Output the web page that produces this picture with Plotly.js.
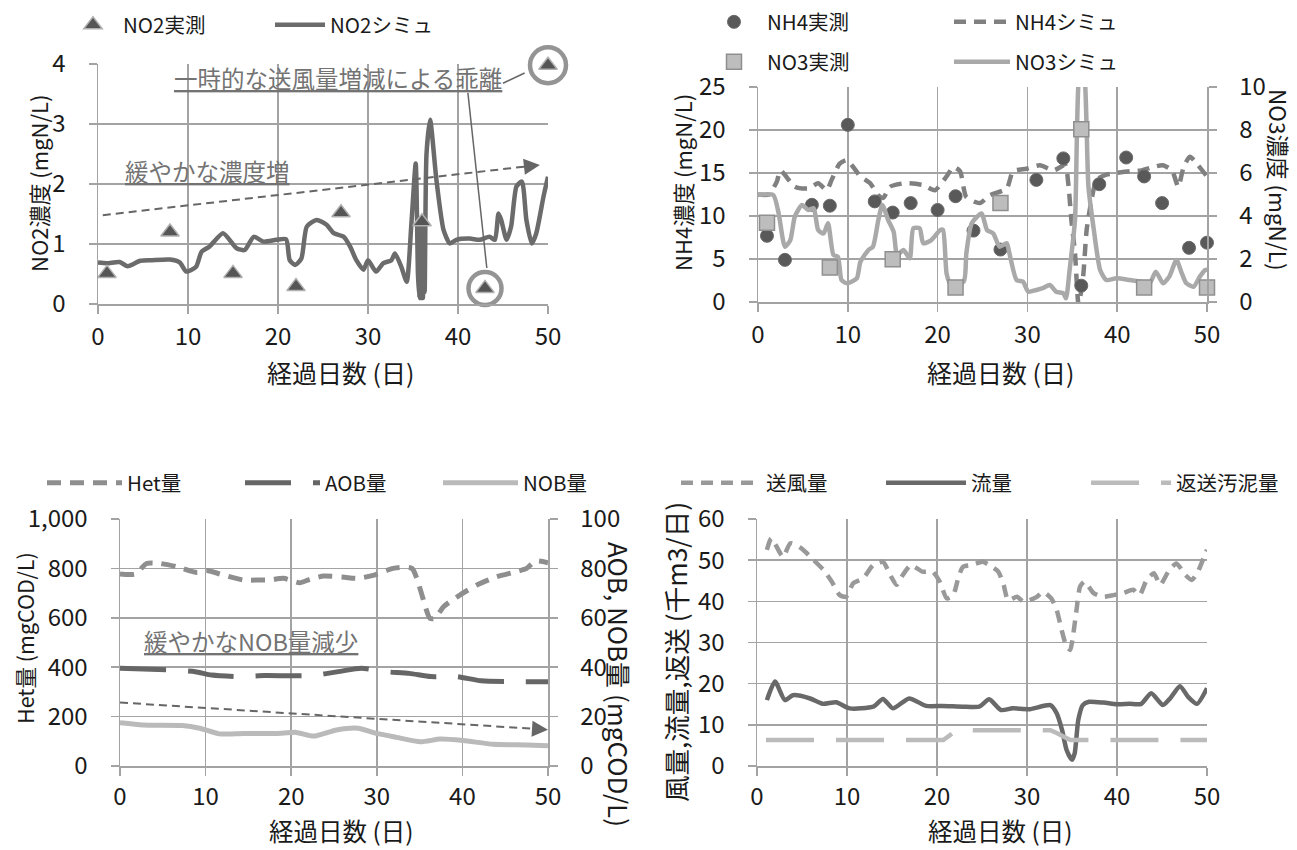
<!DOCTYPE html>
<html><head><meta charset="utf-8">
<script src="https://cdn.plot.ly/plotly-3.0.1.min.js"></script>
<style>html,body{margin:0;padding:0;background:#fff;overflow:hidden;width:1297px;height:850px;}#chart{width:1297px;height:850px;overflow:hidden;}</style>
</head><body><div id="chart"></div>
<script>
// ---------- DATA ----------
// Top-left: NO2
const no2ObsDay = [1, 8, 15, 22, 27, 36, 43, 50];
const no2Obs    = [0.51, 1.2, 0.51, 0.29, 1.52, 1.37, 0.26, 3.98];
const no2SimDay = [0, 1, 2.4, 3.3, 4.7, 6, 8, 9.1, 9.8, 10.9, 11.5, 12.4, 13.9, 15.4, 16.3, 17.3, 18.4, 19.8, 20.9, 21.3, 21.9, 22.6, 23.2, 24.3, 25.4, 26.2, 27.3, 28, 28.7, 29.5, 30, 30.9, 31.7, 32.6, 33, 33.7, 34.3, 34.8, 35.3, 35.55, 35.7, 35.8, 35.9, 36.0, 36.1, 36.2, 36.3, 36.5, 36.9, 37.6, 38.4, 39.1, 39.8, 41.3, 42.4, 43.5, 44.1, 44.5, 44.8, 45.4, 45.9, 46.5, 47.1, 47.6, 48.2, 48.7, 49.5, 50];
const no2Sim    = [0.69, 0.68, 0.70, 0.63, 0.72, 0.73, 0.74, 0.69, 0.54, 0.62, 0.87, 0.96, 1.18, 0.93, 0.90, 1.12, 1.04, 1.07, 1.08, 0.73, 0.65, 0.76, 1.29, 1.40, 1.32, 1.18, 1.12, 0.96, 0.73, 0.57, 0.73, 0.54, 0.68, 0.73, 0.84, 0.62, 0.37, 1.29, 2.34, 0.5, 0.1, 1.4, 0.1, 1.4, 0.1, 1.3, 0.2, 2.5, 3.07, 2.07, 1.23, 1.01, 1.07, 1.09, 1.07, 1.12, 1.07, 1.51, 1.40, 1.07, 1.29, 1.96, 2.04, 1.40, 1.01, 1.18, 1.79, 2.12];
const no2HighlightIdx = [6, 7];

// Top-right: NH4 / NO3
const nh4ObsDay = [1, 3, 6, 8, 10, 13, 15, 17, 20, 22, 24, 27, 31, 34, 36, 38, 41, 43, 45, 48, 50];
const nh4Obs    = [7.7, 4.9, 11.3, 11.2, 20.6, 11.7, 10.4, 11.5, 10.7, 12.3, 8.3, 6.1, 14.2, 16.7, 1.9, 13.7, 16.8, 14.6, 11.5, 6.3, 6.9];
const nh4SimDay = [0, 1.2, 2.1, 2.5, 4.1, 5.6, 6.7, 7.65, 8.2, 9.1, 9.9, 10.6, 11.4, 12.5, 13.4, 13.95, 14.7, 16.2, 16.9, 18.4, 19.7, 21.0, 21.75, 22.5, 23.2, 24.7, 25.8, 27.7, 28.4, 29.9, 31.4, 32.9, 34.2, 34.55, 34.9, 35.3, 35.7, 36.2, 36.6, 37.2, 37.7, 38.8, 39.9, 41.4, 42.7, 44.0, 45.1, 46.1, 46.8, 47.4, 48.1, 49.0, 50];
const nh4Sim    = [12.5, 12.5, 14.0, 15.3, 13.4, 13.2, 13.8, 13.0, 14.2, 16.1, 16.5, 15.7, 14.6, 13.8, 12.4, 12.1, 13.4, 13.8, 13.8, 13.6, 13.0, 14.6, 15.7, 15.2, 12.2, 11.5, 12.4, 13.2, 15.2, 15.5, 15.9, 15.3, 15.9, 13.8, 9.5, 5.7, -0.3, 2.9, 8.4, 12.2, 14.2, 14.8, 15.0, 15.2, 15.3, 15.7, 15.9, 15.3, 13.4, 15.7, 16.9, 15.9, 14.6];
const no3ObsDay = [1, 8, 15, 22, 27, 36, 43, 50];
const no3Obs    = [3.69, 1.6, 1.99, 0.68, 4.6, 8.03, 0.68, 0.68];
const no3SimDay = [0, 1.7, 2.3, 3.0, 3.6, 4.1, 4.9, 5.6, 6.2, 6.7, 7.3, 7.8, 8.4, 8.9, 9.3, 9.9, 11.0, 11.4, 12.3, 12.8, 13.4, 13.85, 14.5, 15.1, 15.5, 16.2, 16.9, 17.3, 18.0, 18.4, 19.3, 20.3, 20.6, 21.0, 21.4, 22.9, 23.2, 23.8, 24.9, 25.5, 26.2, 26.9, 27.7, 28.0, 28.8, 29.5, 30.1, 31.0, 31.7, 32.5, 33.2, 34.0, 34.3, 34.7, 35.3, 35.9, 36.2, 36.8, 37.4, 38.1, 38.8, 39.9, 41.4, 42.5, 43.6, 44.3, 45.1, 45.8, 46.6, 47.2, 47.7, 48.5, 49.2, 49.8, 50];
const no3Sim    = [4.98, 4.98, 4.12, 2.57, 2.88, 3.97, 4.51, 4.28, 4.36, 3.35, 3.19, 3.66, 2.19, 2.1, 1.02, 0.87, 1.1, 1.87, 2.42, 2.57, 3.81, 4.51, 3.81, 3.27, 2.19, 2.42, 2.03, 3.43, 3.43, 2.73, 2.88, 3.35, 3.35, 1.33, 0.87, 0.95, 2.26, 3.66, 4.12, 3.35, 3.19, 2.57, 2.73, 2.26, 1.02, 0.95, 0.48, 0.56, 0.64, 0.79, 0.48, 0.4, 0.17, 1.49, 3.81, 11, 11, 5.36, 3.35, 1.49, 1.02, 1.1, 1.02, 0.95, 0.87, 1.41, 0.87, 1.18, 1.95, 1.33, 0.87, 0.71, 1.18, 1.49, 1.5];

// Bottom-left: biomass
const hetDay = [0, 1.8, 3.1, 4.7, 6.6, 9.0, 10.1, 12.1, 14.4, 16.3, 17.5, 19.1, 21.0, 22.2, 23.8, 26.2, 27.8, 29.7, 31.9, 34.1, 36.2, 36.8, 37.8, 39.7, 41.7, 44.0, 46.3, 47.5, 48.5, 50];
const het    = [777, 777, 820, 820, 807, 783, 791, 773, 753, 753, 753, 760, 742, 756, 769, 764, 760, 773, 800, 800, 598, 598, 645, 692, 733, 766, 787, 800, 830, 823];
const aobDay = [0, 6.0, 8.8, 10.7, 13.8, 16.9, 22.4, 25.5, 28.2, 30.9, 33.8, 36.3, 39.3, 42.2, 47.3, 50];
const aob    = [39.6, 38.9, 38.2, 36.8, 36.2, 36.6, 36.6, 38.2, 39.6, 38.2, 37.5, 36.2, 36.2, 34.5, 34.1, 34.1];
const nobDay = [0, 2.7, 7.3, 9.3, 11.6, 14.4, 18.3, 20.6, 22.6, 25.3, 27.8, 30.0, 32.3, 35.1, 37.4, 40.1, 43.6, 47.5, 50];
const nob    = [17.5, 16.6, 16.4, 15.3, 13.0, 13.2, 13.2, 13.6, 12.1, 14.6, 15.3, 13.2, 11.6, 9.8, 10.9, 10.3, 8.8, 8.5, 8.2];

// Bottom-right: flows
const airDay = [1.1, 1.6, 2.9, 3.7, 4.9, 6.3, 7.4, 8.3, 9.2, 9.9, 10.7, 11.8, 12.9, 14.0, 14.8, 15.5, 16.2, 17.1, 18.4, 19.5, 20.3, 21.1, 21.8, 22.4, 22.9, 23.8, 25.1, 25.8, 26.8, 27.4, 27.9, 28.9, 29.6, 30.3, 31.1, 31.8, 32.7, 33.3, 33.9, 34.4, 34.8, 35.1, 35.5, 35.9, 36.4, 37.4, 38.5, 39.6, 40.7, 41.8, 42.5, 43.3, 44.1, 44.8, 45.7, 46.6, 47.6, 48.3, 48.9, 49.6, 50];
const air    = [52.5, 55.3, 50.8, 54.1, 52.9, 50.0, 47.6, 44.8, 41.5, 41.1, 44.4, 45.6, 48.8, 49.6, 46.4, 44.0, 46.4, 48.8, 47.2, 47.2, 44.8, 40.7, 41.5, 46.0, 48.4, 48.8, 49.6, 48.8, 47.2, 44.0, 40.3, 41.1, 39.9, 40.3, 41.1, 42.3, 40.7, 37.9, 32.6, 29.0, 28.2, 31.4, 37.9, 43.6, 44.8, 42.0, 41.1, 41.5, 42.0, 42.8, 41.5, 45.2, 46.8, 44.0, 47.2, 49.2, 46.4, 45.2, 46.8, 50.4, 52.5];
const flowDay = [1.1, 2.0, 3.1, 4.0, 5.9, 7.3, 8.8, 10.3, 12.9, 14.0, 15.1, 16.9, 18.8, 20.6, 22.9, 24.7, 25.8, 27.1, 28.4, 30.3, 32.6, 33.3, 33.9, 34.4, 35.0, 35.3, 35.7, 36.2, 36.9, 38.5, 40.0, 41.4, 42.7, 43.8, 45.1, 45.9, 47.0, 47.9, 48.9, 50];
const flow    = [16.0, 20.5, 16.0, 17.2, 16.4, 15.1, 15.5, 14.0, 14.4, 16.3, 14.0, 16.4, 14.6, 14.6, 14.4, 14.4, 16.2, 13.6, 14.0, 13.8, 14.8, 12.8, 8.7, 3.9, 1.5, 3.1, 11.2, 14.8, 15.6, 15.4, 15.0, 15.1, 15.1, 17.7, 14.8, 16.4, 19.4, 16.8, 15.1, 18.9];
const retDay = [1, 20.7, 22.2, 24.7, 32.6, 33.3, 34.8, 50];
const ret    = [6.3, 6.3, 8.7, 8.7, 8.7, 8.0, 6.3, 6.3];

// ---------- LAYOUT HELPERS ----------
const W = 1297, H = 850;
const FONT = '"Noto Sans CJK JP", "Noto Sans", sans-serif';
const TICK = 24, XTITLE = 25, XTITLE_B = 24.5, LEG = 20.5, NOTE = 23.5;
const grid = '#a3a3a3', ink = '#1a1a1a', noteInk = '#737373';
const dx = (a, b) => [a / W, b / W];
const dy = (top, bottom) => [1 - bottom / H, 1 - top / H];
const px = x => x / W, py = y => 1 - y / H;

function xAxis(domain, anchor, standoff) {
  return {domain, anchor, range: [0, 50], tick0: 0, dtick: 10, showgrid: true, gridcolor: grid, gridwidth: 1.5,
    showline: true, linecolor: grid, linewidth: 1.5, ticks: 'outside', ticklen: 8, tickwidth: 1.5, tickcolor: grid,
    tickfont: {size: TICK, color: ink}, ticklabelstandoff: standoff, zeroline: false, automargin: false};
}
function yAxis(domain, anchor, range, dtick, extra) {
  return Object.assign({domain, anchor, range, tick0: 0, dtick, showgrid: true, gridcolor: grid, gridwidth: 1.5,
    showline: true, linecolor: grid, linewidth: 1.5, ticks: 'outside', ticklen: 8, tickwidth: 1.5, tickcolor: grid,
    tickfont: {size: TICK, color: ink}, ticklabelstandoff: 18, zeroline: false, automargin: false}, extra || {});
}
const sp = {shape: 'spline', smoothing: 0.6};
const skip = {hoverinfo: 'skip', showlegend: false};

// ---------- TRACES ----------
const traces = [
  // TL
  {x: no2SimDay, y: no2Sim, xaxis: 'x', yaxis: 'y', mode: 'lines', name: 'NO2シミュ', legend: 'legend', legendrank: 2,
   line: Object.assign({color: '#6b6b6b', width: 4.5}, sp)},
  {x: no2ObsDay, y: no2Obs, xaxis: 'x', yaxis: 'y', mode: 'markers', name: 'NO2実測', legend: 'legend', legendrank: 1, cliponaxis: false,
   marker: {symbol: 'triangle-up', size: 16, color: '#555555', line: {color: '#b0b0b0', width: 1.5}}},
  Object.assign({x: no2HighlightIdx.map(i => no2ObsDay[i]), y: no2HighlightIdx.map(i => no2Obs[i]), xaxis: 'x', yaxis: 'y',
   mode: 'markers', cliponaxis: false, marker: {symbol: 'circle-open', size: [33, 36], color: '#666666', line: {width: 4.5, color: '#666666'}}}, skip),
  // TR
  {x: no3SimDay, y: no3Sim, xaxis: 'x2', yaxis: 'y3', mode: 'lines', name: 'NO3シミュ', legend: 'legend3', legendrank: 2,
   line: Object.assign({color: '#a9a9a9', width: 4.5}, sp)},
  {x: nh4SimDay, y: nh4Sim, xaxis: 'x2', yaxis: 'y2', mode: 'lines', name: 'NH4シミュ', legend: 'legend2', legendrank: 2,
   line: Object.assign({color: '#808080', width: 4.5, dash: '12px,8px'}, sp)},
  {x: nh4ObsDay, y: nh4Obs, xaxis: 'x2', yaxis: 'y2', mode: 'markers', name: 'NH4実測', legend: 'legend2', legendrank: 1, cliponaxis: false,
   marker: {symbol: 'circle', size: 13, color: '#595959', line: {color: '#6a6a6a', width: 1}}},
  {x: no3ObsDay, y: no3Obs, xaxis: 'x2', yaxis: 'y3', mode: 'markers', name: 'NO3実測', legend: 'legend3', legendrank: 1, cliponaxis: false,
   marker: {symbol: 'square', size: 15, color: '#bdbdbd', line: {color: '#8f8f8f', width: 1.5}}},
  // BL
  {x: hetDay, y: het, xaxis: 'x3', yaxis: 'y4', mode: 'lines', name: 'Het量', legend: 'legend4',
   line: Object.assign({color: '#8e8e8e', width: 5, dash: '14px,9px'}, sp)},
  {x: aobDay, y: aob, xaxis: 'x3', yaxis: 'y5', mode: 'lines', name: 'AOB量', legend: 'legend4',
   line: Object.assign({color: '#666666', width: 5, dash: '46px,22px'}, sp)},
  {x: nobDay, y: nob, xaxis: 'x3', yaxis: 'y5', mode: 'lines', name: 'NOB量', legend: 'legend4',
   line: Object.assign({color: '#bababa', width: 5}, sp)},
  // BR
  {x: airDay, y: air, xaxis: 'x4', yaxis: 'y6', mode: 'lines', name: '送風量', legend: 'legend5',
   line: Object.assign({color: '#999999', width: 4.5, dash: '12px,8px'}, sp)},
  {x: flowDay, y: flow, xaxis: 'x4', yaxis: 'y6', mode: 'lines', name: '流量', legend: 'legend5',
   line: Object.assign({color: '#696969', width: 4.5}, sp)},
  {x: retDay, y: ret, xaxis: 'x4', yaxis: 'y6', mode: 'lines', name: '返送汚泥量', legend: 'legend5',
   line: {color: '#bbbbbb', width: 4.5, dash: '48px,22px', shape: 'linear'}}
];

// ---------- ANNOTATION GEOMETRY (in data units) ----------
const trendNO2 = {x0: -0.9, y0: 1.455, x1: 47.4, y1: 2.29, tipX: 49.1, tipY: 2.317};
const trendNOB = {x0: 0, y0: 25.7, x1: 48.2, y1: 15.1, tipX: 50, tipY: 14.65};
const callA = {x0: 45.0, y0: 3.68, x1: 47.4, y1: 3.85};
const callB = {x0: 41.1, y0: 3.52, x1: 43.2, y1: 0.6};

const legBase = {orientation: 'h', font: {family: FONT, size: LEG, color: ink}, bgcolor: 'rgba(0,0,0,0)',
  xanchor: 'left', yanchor: 'middle', tracegroupgap: 0};

const title = (text, x, y, angle, size) => ({text, xref: 'paper', yref: 'paper', x: px(x), y: py(y), textangle: angle,
  showarrow: false, xanchor: 'center', yanchor: 'middle', borderpad: 0, font: {size, color: ink}});

const layout = {
  width: W, height: H, margin: {l: 0, r: 0, t: 0, b: 0}, paper_bgcolor: '#fff', plot_bgcolor: '#fff',
  font: {family: FONT, color: ink}, showlegend: true,
  xaxis:  xAxis(dx(98, 548), 'y', 3),
  yaxis:  yAxis(dy(64, 304), 'x', [0, 4], 1),
  xaxis2: xAxis(dx(758, 1207), 'y2', 3),
  yaxis2: yAxis(dy(87, 302), 'x2', [0, 25], 5),
  yaxis3: yAxis(dy(87, 302), 'x2', [0, 10], 2, {overlaying: 'y2', side: 'right', showgrid: false}),
  xaxis3: xAxis(dx(120, 548), 'y4', 1),
  yaxis4: yAxis(dy(519, 766), 'x3', [0, 1000], 200, {tickformat: ','}),
  yaxis5: yAxis(dy(519, 766), 'x3', [0, 100], 20, {overlaying: 'y4', side: 'right', showgrid: false}),
  xaxis4: xAxis(dx(757, 1207), 'y6', 1),
  yaxis6: yAxis(dy(519, 766), 'x4', [0, 60], 10),
  legend:  Object.assign({}, legBase, {x: px(63), y: py(25), itemwidth: 50, entrywidth: 142}),
  legend2: Object.assign({}, legBase, {x: px(701), y: py(22), itemwidth: 56, entrywidth: 177}),
  legend3: Object.assign({}, legBase, {x: px(701), y: py(62), itemwidth: 56, entrywidth: 177}),
  legend4: Object.assign({}, legBase, {x: px(42), y: py(483), itemwidth: 75, entrywidth: 108}),
  legend5: Object.assign({}, legBase, {x: px(676), y: py(483), itemwidth: 80, entrywidth: 110}),
  shapes: [
    {type: 'line', xref: 'x', yref: 'y', x0: trendNO2.x0, y0: trendNO2.y0, x1: trendNO2.x1, y1: trendNO2.y1,
     line: {color: '#666', width: 2, dash: '8px,5px'}},
    {type: 'line', xref: 'x3', yref: 'y5', x0: trendNOB.x0, y0: trendNOB.y0, x1: trendNOB.x1, y1: trendNOB.y1,
     line: {color: '#666', width: 2, dash: '8px,5px'}},
    {type: 'line', xref: 'x', yref: 'y', x0: callA.x0, y0: callA.y0, x1: callA.x1, y1: callA.y1, line: {color: '#666', width: 1.5}},
    {type: 'line', xref: 'x', yref: 'y', x0: callB.x0, y0: callB.y0, x1: callB.x1, y1: callB.y1, line: {color: '#666', width: 1.5}}
  ],
  annotations: [
    {text: '', xref: 'x', yref: 'y', x: trendNO2.tipX, y: trendNO2.tipY, ax: -16, ay: 1.8, showarrow: true,
     arrowhead: 2, arrowsize: 1.6, arrowwidth: 2, arrowcolor: '#666', standoff: 0},
    {text: '', xref: 'x3', yref: 'y5', x: trendNOB.tipX, y: trendNOB.tipY, ax: -16, ay: -1.0, showarrow: true,
     arrowhead: 2, arrowsize: 1.6, arrowwidth: 2, arrowcolor: '#666', standoff: 0},
    {text: '<u>一時的な送風量増減による乖離</u>', xref: 'x', yref: 'y', x: 8.2, y: 3.77, xanchor: 'left', yanchor: 'middle',
     showarrow: false, font: {size: NOTE, color: noteInk}},
    {text: '<u>緩やかな濃度増</u>', xref: 'x', yref: 'y', x: 2.8, y: 2.22, xanchor: 'left', yanchor: 'middle',
     showarrow: false, font: {size: NOTE, color: noteInk}},
    {text: '<u>緩やかなNOB量減少</u>', xref: 'x3', yref: 'y4', x: 2.57, y: 506, xanchor: 'left', yanchor: 'middle',
     showarrow: false, font: {size: NOTE, color: noteInk}},
    title('経過日数 (日)', 341, 372, 0, XTITLE),
    title('経過日数 (日)', 1001, 372, 0, XTITLE),
    title('経過日数 (日)', 341, 830, 0, XTITLE_B),
    title('経過日数 (日)', 1001, 830, 0, XTITLE_B),
    title('NO2濃度 (mgN/L)', 38, 183, -90, 22),
    title('NH4濃度 (mgN/L)', 682, 183, -90, 22),
    title('NO3濃度 (mgN/L)', 1279, 180, 90, 22.5),
    title('Het量 (mgCOD/L)', 24, 638, -90, 21.5),
    title('AOB, NOB量 (mgCOD/L)', 620, 684, 90, 26),
    title('風量,流量,返送 (千m3/日)', 675, 652, -90, 26.5)
  ]
};

Plotly.newPlot('chart', traces, layout, {displayModeBar: false, staticPlot: true});
</script></body></html>
